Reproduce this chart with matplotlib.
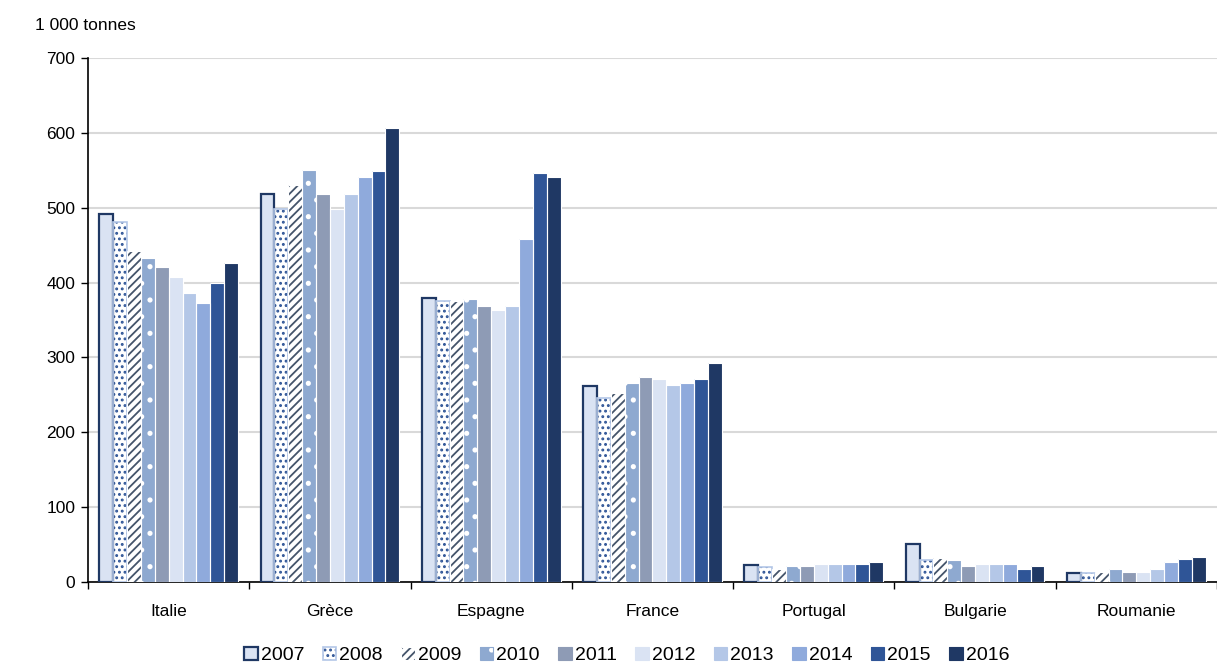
import numpy as np
import matplotlib
matplotlib.use('Agg')
import matplotlib.pyplot as plt
from matplotlib.patches import Patch
from matplotlib.legend_handler import HandlerTuple

plt.rcParams['font.family'] = ['Liberation Sans', 'DejaVu Sans']
plt.rcParams['hatch.linewidth'] = 1.3

# data (1 000 tonnes)
countries = ['Italie', 'Grèce', 'Espagne', 'France', 'Portugal', 'Bulgarie', 'Roumanie']
years = ['2007', '2008', '2009', '2010', '2011', '2012', '2013', '2014', '2015', '2016']

italie   = [491, 481, 442, 433, 421, 407, 386, 373, 399, 426]
grece    = [518, 498, 530, 551, 518, 498, 518, 541, 549, 607]
espagne  = [379, 376, 375, 378, 369, 364, 369, 458, 546, 541]
france   = [262, 246, 252, 266, 274, 271, 263, 266, 271, 292]
portugal = [23, 20, 18, 21, 21, 24, 24, 24, 24, 27]
bulgarie = [51, 29, 32, 29, 21, 24, 24, 24, 18, 21]
roumanie = [12, 12, 13, 17, 13, 13, 17, 27, 31, 33]

values = np.array([italie, grece, espagne, france, portugal, bulgarie, roumanie])

# style per year: fill, hatch colour, hatch, outline colour, outline width
styles = [
    ('#dae3f3', '#dae3f3', None,  '#1f3864', 1.6),
    ('white',   '#2f5597', '...', '#b4c7e7', 1.2),
    ('white',   '#44546a', '////', 'white', 0.8),
    ('#8ea9d0', 'white',   '.',   'white', 0.8),
    ('#8e9bb5', '#8e9bb5', None,  'white', 0.8),
    ('#dae3f3', '#dae3f3', None,  'white', 0.8),
    ('#b4c7e7', '#b4c7e7', None,  'white', 0.8),
    ('#8faadc', '#8faadc', None,  'white', 0.8),
    ('#2f5597', '#2f5597', None,  'white', 0.8),
    ('#1f3864', '#1f3864', None,  'white', 0.8),
]

fig = plt.figure(figsize=(12.17, 6.65), dpi=100)
ax = fig.add_axes([0.0723, 0.1248, 0.9277, 0.788])

x = np.arange(len(countries))
w = 0.086
handles = []
for j, yr in enumerate(years):
    fc, hc, hatch, oc, lw = styles[j]
    pos = x + (j - 4.5) * w
    ax.bar(pos, values[:, j], width=w, color=fc, edgecolor=hc, hatch=hatch,
           linewidth=0, zorder=3)
    ax.bar(pos, values[:, j], width=w, facecolor='none', edgecolor=oc,
           linewidth=lw, zorder=4)
    p1 = Patch(facecolor=fc, edgecolor=hc, hatch=hatch, linewidth=0)
    p2 = Patch(facecolor='none', edgecolor=oc if oc != 'white' else fc, linewidth=lw)
    handles.append((p1, p2))

ax.set_xlim(-0.5, len(countries) - 0.5)
ax.set_ylim(0, 700)
ax.set_yticks(range(0, 701, 100))
ax.yaxis.grid(True, color='#d9d9d9', linewidth=1.5, zorder=0)
ax.set_axisbelow(True)

ax.set_xticks(x)
ax.set_xticklabels(countries)
ax.set_xticks(np.arange(-0.5, len(countries), 1), minor=True)
ax.tick_params(axis='x', which='major', length=0, pad=16, labelsize=12.5)
ax.tick_params(axis='x', which='minor', length=5, width=1, direction='out')
ax.tick_params(axis='y', length=5, width=1, labelsize=12.5, pad=4)

for s in ['top', 'right']:
    ax.spines[s].set_visible(False)
ax.spines['left'].set_linewidth(1.2)
ax.spines['bottom'].set_linewidth(1.2)

fig.text(0.029, 0.962, '1 000 tonnes', fontsize=12.5, va='center', ha='left')

fig.legend(handles, years, handler_map={tuple: HandlerTuple(ndivide=1, pad=0)},
           loc='center', bbox_to_anchor=(0.515, 0.014), ncol=10, frameon=False,
           fontsize=14, handlelength=0.7, handleheight=0.7, handletextpad=0.15,
           columnspacing=0.95, borderaxespad=0)

fig.savefig('out.png', dpi=100)
